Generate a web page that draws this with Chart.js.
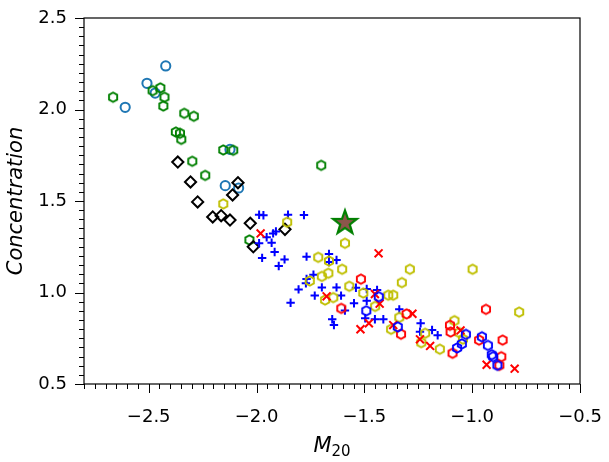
<!DOCTYPE html>
<html>
<head>
<meta charset="utf-8">
<script src="https://cdn.jsdelivr.net/npm/chart.js@4.4.1/dist/chart.umd.min.js"></script>
<style>
html, body { margin: 0; padding: 0; background: #fff; }
</style>
</head>
<body>
<canvas id="chart" width="609" height="462"></canvas>
<script>
// Axis ticks
const xTicks = [-2.5, -2.0, -1.5, -1.0, -0.5];
const yTicks = [0.5, 1.0, 1.5, 2.0, 2.5];

// Steel blue open circles
const circX = [-2.421, -2.508, -2.470, -2.609, -2.123, -2.145, -2.083];
const circY = [2.238, 2.143, 2.090, 2.012, 1.782, 1.584, 1.571];

// Green hexagons
const greenX = [-2.665, -2.482, -2.446, -2.427, -2.432, -2.335, -2.291, -2.374, -2.355, -2.349, -2.154, -2.108, -2.298, -2.238, -2.033, -1.700];
const greenY = [2.067, 2.103, 2.118, 2.067, 2.019, 1.979, 1.963, 1.877, 1.870, 1.837, 1.779, 1.777, 1.717, 1.640, 1.287, 1.695];

// Black diamonds
const diaX = [-2.365, -2.306, -2.086, -2.111, -2.273, -2.203, -2.164, -2.123, -2.029, -2.015, -1.868];
const diaY = [1.713, 1.604, 1.600, 1.533, 1.495, 1.413, 1.420, 1.396, 1.378, 1.250, 1.345];

// Blue plus signs
const plusX = [-1.988, -1.968, -1.854, -1.780, -1.923, -1.910, -1.953, -1.930, -1.988, -1.916, -1.974, -1.870, -1.897,
               -1.768, -1.664, -1.629, -1.664, -1.736, -1.768, -1.771, -1.805, -1.697, -1.629, -1.730, -1.842, -1.608,
               -1.649, -1.641, -1.548, -1.590, -1.489, -1.489, -1.539, -1.451, -1.412, -1.496, -1.338, -1.441,
               -1.239, -1.242, -1.186, -1.160];
const plusY = [1.425, 1.422, 1.425, 1.423, 1.323, 1.334, 1.302, 1.272, 1.269, 1.221, 1.189, 1.181, 1.145,
               1.196, 1.210, 1.178, 1.167, 1.097, 1.074, 1.050, 1.017, 1.028, 1.028, 0.983, 0.944, 0.983,
               0.854, 0.822, 0.941, 0.902, 1.019, 0.955, 1.026, 0.854, 0.854, 0.859, 0.908, 1.014,
               0.832, 0.786, 0.795, 0.766];

// Yellow hexagons
const yelX = [-2.154, -1.858, -1.590, -1.714, -1.664, -1.603, -1.697, -1.667, -1.753, -1.570, -1.644, -1.682, -1.505, -1.389,
              -1.366, -1.450, -1.289, -1.326, -1.338, -1.376, -0.998, -0.782, -1.082, -1.060, -1.218, -1.236, -1.150, -1.043];
const yelY = [1.484, 1.384, 1.269, 1.192, 1.172, 1.127, 1.088, 1.105, 1.063, 1.034, 0.972, 0.959, 0.997, 0.985,
              0.985, 0.924, 1.127, 1.054, 0.864, 0.799, 1.127, 0.893, 0.846, 0.781, 0.777, 0.726, 0.690, 0.745];

// Red hexagons
const redX = [-1.516, -1.607, -1.330, -1.304, -0.936, -1.103, -1.100, -1.091, -0.968, -0.859, -0.865, -0.874];
const redY = [1.073, 0.913, 0.772, 0.883, 0.908, 0.821, 0.784, 0.668, 0.740, 0.740, 0.649, 0.602];

// Red crosses
const crossX = [-1.981, -1.434, -1.675, -1.518, -1.479, -1.451, -1.429, -1.366, -1.277, -1.242, -1.195, -1.054, -0.933, -0.803];
const crossY = [1.323, 1.214, 0.979, 0.799, 0.832, 0.992, 0.939, 0.822, 0.884, 0.744, 0.708, 0.793, 0.605, 0.584];

// Blue hexagons
const bhexX = [-1.433, -1.491, -1.345, -1.029, -1.048, -1.070, -0.955, -0.927, -0.909, -0.903, -0.883];
const bhexY = [0.977, 0.900, 0.812, 0.771, 0.719, 0.697, 0.758, 0.711, 0.660, 0.649, 0.602];

// Highlighted object
const starX = [-1.590];
const starY = [1.386];

const FONT = "'DejaVu Sans', sans-serif";
const pts = (xs, ys) => xs.map((x, i) => ({ x: x, y: ys[i] }));

// matplotlib style 'h' hexagon as an image marker
function hexMarker(color) {
    const c = document.createElement('canvas');
    c.width = 14; c.height = 14;
    const g = c.getContext('2d');
    g.beginPath();
    for (let k = 0; k < 6; k++) {
        const a = -Math.PI / 2 + k * Math.PI / 3;
        const px = 7 + 4.7 * Math.cos(a), py = 7 + 4.7 * Math.sin(a);
        k ? g.lineTo(px, py) : g.moveTo(px, py);
    }
    g.closePath();
    g.lineWidth = 1.9;
    g.strokeStyle = color;
    g.stroke();
    return c;
}

function starMarker() {
    const c = document.createElement('canvas');
    c.width = 32; c.height = 32;
    const g = c.getContext('2d');
    g.beginPath();
    for (let k = 0; k < 10; k++) {
        const r = k % 2 ? 5.0 : 12.5;
        const a = -Math.PI / 2 + k * Math.PI / 5;
        const px = 16 + r * Math.cos(a), py = 17 + r * Math.sin(a);
        k ? g.lineTo(px, py) : g.moveTo(px, py);
    }
    g.closePath();
    g.fillStyle = '#8c564b';
    g.fill();
    g.lineWidth = 2.2;
    g.lineJoin = 'miter';
    g.strokeStyle = '#008000';
    g.stroke();
    return c;
}

const series = [
    { data: pts(circX, circY), pointStyle: 'circle', pointRadius: 4.6, pointBorderWidth: 2, pointBorderColor: '#1f77b4' },
    { data: pts(greenX, greenY), pointStyle: hexMarker('#008000') },
    { data: pts(diaX, diaY), pointStyle: 'rectRot', pointRadius: 5.6, pointBorderWidth: 2, pointBorderColor: '#000' },
    { data: pts(plusX, plusY), pointStyle: 'cross', pointRadius: 4.2, pointBorderWidth: 2, pointBorderColor: '#0000ff' },
    { data: pts(yelX, yelY), pointStyle: hexMarker('#bfbf00') },
    { data: pts(redX, redY), pointStyle: hexMarker('#ff0000') },
    { data: pts(crossX, crossY), pointStyle: 'crossRot', pointRadius: 5.6, pointBorderWidth: 2, pointBorderColor: '#ff0000' },
    { data: pts(bhexX, bhexY), pointStyle: hexMarker('#0000ff') },
    { data: pts(starX, starY), pointStyle: starMarker() }
];
// later series on top
series.forEach((s, i) => {
    s.order = series.length - i;
    s.pointBackgroundColor = 'rgba(0,0,0,0)';
    if (s.pointRadius === undefined) s.pointRadius = 5;
});

// frame, minor/major ticks and the M20 label
const axesDecor = {
    id: 'axesDecor',
    afterDraw(chart) {
        const { ctx, chartArea: a, scales: { x, y } } = chart;
        ctx.save();
        ctx.strokeStyle = '#000';
        ctx.lineWidth = 1.2;
        ctx.strokeRect(a.left, a.top, a.right - a.left, a.bottom - a.top);

        ctx.lineWidth = 1;
        ctx.beginPath();
        const nx = Math.round((x.max - x.min) / 0.05);
        for (let i = 0; i <= nx; i++) {
            const v = x.min + i * 0.05;
            const major = Math.abs(v * 2 - Math.round(v * 2)) < 1e-6;
            const px = Math.round(x.getPixelForValue(v)) + 0.5;
            ctx.moveTo(px, a.bottom);
            ctx.lineTo(px, a.bottom + (major ? 9 : 5));
        }
        const ny = Math.round((y.max - y.min) / 0.05);
        for (let i = 0; i <= ny; i++) {
            const v = y.min + i * 0.05;
            const major = Math.abs(v * 2 - Math.round(v * 2)) < 1e-6;
            const py = Math.round(y.getPixelForValue(v)) + 0.5;
            ctx.moveTo(a.left, py);
            ctx.lineTo(a.left - (major ? 9 : 5), py);
        }
        ctx.stroke();

        // x axis title: italic M with subscript 20
        ctx.fillStyle = '#000';
        ctx.textBaseline = 'alphabetic';
        const fMain = 'italic 21px ' + FONT, fSub = '15px ' + FONT;
        ctx.font = fMain;
        const wM = ctx.measureText('M').width;
        ctx.font = fSub;
        const wS = ctx.measureText('20').width;
        const x0 = (a.left + a.right) / 2 - (wM + wS) / 2;
        ctx.font = fMain;
        ctx.fillText('M', x0, 452);
        ctx.font = fSub;
        ctx.fillText('20', x0 + wM, 455.5);
        ctx.restore();
    }
};

new Chart(document.getElementById('chart'), {
    type: 'scatter',
    data: { datasets: series },
    options: {
        responsive: false,
        animation: false,
        devicePixelRatio: 1,
        events: [],
        layout: { padding: { top: 18, right: 29, left: 0, bottom: 0 } },
        plugins: { legend: { display: false }, tooltip: { enabled: false } },
        scales: {
            x: {
                type: 'linear',
                min: -2.8,
                max: -0.5,
                afterBuildTicks: s => { s.ticks = xTicks.map(v => ({ value: v })); },
                afterFit: s => { s.height = 78; s.paddingLeft = 0; s.paddingRight = 0; },
                grid: { display: false, drawTicks: false },
                border: { display: false },
                ticks: {
                    padding: 23,
                    color: '#000',
                    font: { family: FONT, size: 18 },
                    callback: v => v.toFixed(1).replace('-', '\u2212')
                }
            },
            y: {
                type: 'linear',
                min: 0.5,
                max: 2.5,
                afterBuildTicks: s => { s.ticks = yTicks.map(v => ({ value: v })); },
                afterFit: s => { s.width = 84; s.paddingTop = 0; s.paddingBottom = 0; },
                grid: { display: false, drawTicks: false },
                border: { display: false },
                title: {
                    display: true,
                    text: 'Concentration',
                    color: '#000',
                    padding: { top: 4, bottom: 0 },
                    font: { family: FONT, size: 21, style: 'italic' }
                },
                ticks: {
                    padding: 17,
                    color: '#000',
                    font: { family: FONT, size: 18 },
                    callback: v => v.toFixed(1)
                }
            }
        }
    },
    plugins: [axesDecor]
});
</script>
</body>
</html>
